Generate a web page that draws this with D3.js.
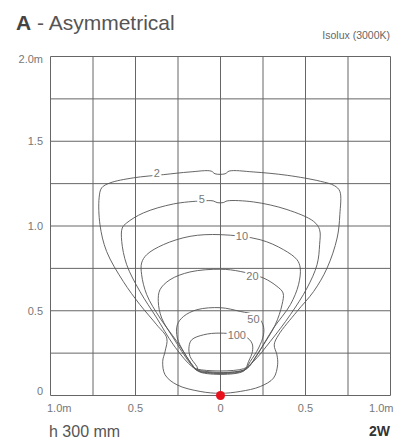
<!DOCTYPE html>
<html>
<head>
<meta charset="utf-8">
<script src="https://cdn.jsdelivr.net/npm/d3@7"></script>
<style>
  html, body { margin: 0; padding: 0; background: #fff; }
  svg { display: block; font-family: "Liberation Sans", Arial, sans-serif; }
</style>
</head>
<body>
<svg id="chart" width="398" height="444"></svg>
<script>
// ---------- data ----------
const xTickValues = [-1, -0.5, 0, 0.5, 1];
const xTickLabels = ["1.0m", "0.5", "0", "0.5", "1.0m"];
const yTickValues = [0, 0.5, 1, 1.5, 2];
const yTickLabels = ["0", "0.5", "1.0", "1.5", "2.0m"];
const gridX = [-1, -0.75, -0.5, -0.25, 0, 0.25, 0.5, 0.75, 1];
const gridY = [0, 0.25, 0.5, 0.75, 1, 1.25, 1.5, 1.75, 2];

const levels = ["2", "5", "10", "20", "50", "100"];

const contour2 = [
  [-0.055,1.324],[-0.032,1.308],[0.027,1.308],[0.051,1.324],[0.192,1.319],[0.393,1.299],
  [0.587,1.264],[0.670,1.238],[0.702,1.205],[0.702,1.067],[0.686,0.929],[0.627,0.752],
  [0.548,0.614],[0.450,0.496],[0.342,0.358],[0.316,0.299],[0.332,0.240],[0.336,0.181],
  [0.312,0.103],[0.234,0.053],[0.116,0.024],[0,0.013],[-0.120,0.024],[-0.256,0.063],
  [-0.326,0.122],[-0.340,0.201],[-0.326,0.260],[-0.316,0.339],[-0.375,0.417],[-0.474,0.536],
  [-0.572,0.673],[-0.670,0.850],[-0.709,1.008],[-0.714,1.166],[-0.699,1.225],[-0.650,1.254],
  [-0.513,1.284],[-0.336,1.303],[-0.179,1.319]
];
const contour5 = [
  [-0.043,1.148],[-0.020,1.138],[0.016,1.138],[0.039,1.148],[0.194,1.142],[0.391,1.097],
  [0.548,1.027],[0.583,0.978],[0.583,0.890],[0.568,0.772],[0.509,0.634],[0.411,0.477],
  [0.293,0.319],[0.194,0.201],[0.136,0.158],[-0.138,0.156],[-0.179,0.181],[-0.277,0.299],
  [-0.375,0.457],[-0.474,0.614],[-0.552,0.772],[-0.581,0.909],[-0.578,0.988],[-0.552,1.018],
  [-0.454,1.077],[-0.277,1.130],[-0.110,1.148]
];
const contour10 = [
  [0,0.949],[0.234,0.919],[0.371,0.860],[0.450,0.801],[0.469,0.752],[0.459,0.654],
  [0.411,0.536],[0.312,0.398],[0.214,0.240],[0.145,0.154],[-0.138,0.152],[-0.159,0.171],
  [-0.257,0.319],[-0.356,0.457],[-0.434,0.595],[-0.464,0.713],[-0.464,0.782],[-0.434,0.831],
  [-0.336,0.890],[-0.179,0.939]
];
const contour20 = [
  [0,0.745],[0.116,0.732],[0.253,0.693],[0.332,0.644],[0.368,0.605],[0.362,0.536],
  [0.322,0.417],[0.253,0.299],[0.175,0.181],[0.139,0.149],[-0.135,0.147],[-0.179,0.191],
  [-0.277,0.339],[-0.346,0.457],[-0.366,0.555],[-0.356,0.624],[-0.297,0.683],[-0.179,0.729]
];
const contour50 = [
  [0,0.518],[0.116,0.496],[0.210,0.471],[0.250,0.417],[0.253,0.358],[0.224,0.280],
  [0.175,0.201],[0.136,0.146],[-0.132,0.144],[-0.159,0.171],[-0.218,0.260],[-0.254,0.339],
  [-0.254,0.417],[-0.218,0.466],[-0.139,0.506]
];
const contour100 = [
  [0,0.368],[0.145,0.348],[0.185,0.309],[0.188,0.260],[0.165,0.201],[0.134,0.143],
  [-0.126,0.141],[-0.139,0.171],[-0.179,0.230],[-0.185,0.289],[-0.169,0.329],[-0.100,0.358]
];
const contours = [contour2, contour5, contour10, contour20, contour50, contour100];
// label anchor positions in metres
const labelX = [-0.375, -0.110, 0.126, 0.188, 0.194, 0.096];
const labelY = [1.309, 1.156, 0.939, 0.707, 0.453, 0.354];

const sourcePoint = [0, 0];

// ---------- drawing ----------
const svg = d3.select("#chart");
const x = d3.scaleLinear().domain([-1, 1]).range([50.5, 390.5]);
const y = d3.scaleLinear().domain([0, 2]).range([395.5, 56.5]);

// title
const title = svg.append("text").attr("x", 16).attr("y", 30)
  .style("font-size", "21px");
title.append("tspan").text("A").style("font-weight", "bold").attr("fill", "#444");
title.append("tspan").text(" - Asymmetrical").attr("fill", "#555");

svg.append("text").attr("x", 390).attr("y", 39).attr("text-anchor", "end")
  .style("font-size", "10.5px").attr("fill", "#666").text("Isolux (3000K)");

// grid
const grid = svg.append("g").attr("stroke", "#666").attr("stroke-width", 1);
grid.selectAll("line.v").data(gridX).join("line").attr("class", "v")
  .attr("x1", d => x(d)).attr("x2", d => x(d))
  .attr("y1", y(0)).attr("y2", y(2));
grid.selectAll("line.h").data(gridY).join("line").attr("class", "h")
  .attr("x1", x(-1)).attr("x2", x(1))
  .attr("y1", d => y(d)).attr("y2", d => y(d));

// axes labels
const yOff = [-4, 0, 0, 0, 3];
svg.append("g").selectAll("text").data(yTickValues).join("text")
  .attr("x", 43).attr("y", (d, i) => y(d) + yOff[i]).attr("dy", "0.35em")
  .attr("text-anchor", "end").style("font-size", "11px").attr("fill", "#777")
  .text((d, i) => yTickLabels[i]);

const xAnchor = ["start", "middle", "middle", "middle", "end"];
const xOff = [-3.5, 0, 0, 0, 3];
svg.append("g").selectAll("text").data(xTickValues).join("text")
  .attr("x", (d, i) => x(d) + xOff[i]).attr("y", 411.5)
  .attr("text-anchor", (d, i) => xAnchor[i]).style("font-size", "11px").attr("fill", "#777")
  .text((d, i) => xTickLabels[i]);

// contours
const line = d3.line().x(d => x(d[0])).y(d => y(d[1]))
  .curve(d3.curveCatmullRomClosed.alpha(0.5));
svg.append("g").selectAll("path").data(contours).join("path")
  .attr("d", line).attr("fill", "none").attr("stroke", "#555").attr("stroke-width", 0.9);

// contour labels
svg.append("g").selectAll("text").data(levels).join("text")
  .attr("x", (d, i) => x(labelX[i])).attr("y", (d, i) => y(labelY[i]))
  .attr("dy", "0.35em").attr("text-anchor", "middle")
  .style("font-size", "11px").attr("fill", "#777")
  .attr("stroke", "#fff").attr("stroke-width", 4).attr("paint-order", "stroke")
  .text(d => d);

// source point
svg.append("circle").attr("cx", x(sourcePoint[0])).attr("cy", y(sourcePoint[1]))
  .attr("r", 4.5).attr("fill", "#e8101a");

// footer
svg.append("text").attr("x", 49).attr("y", 437).style("font-size", "16px")
  .attr("fill", "#555").text("h 300 mm");
svg.append("text").attr("x", 390).attr("y", 436).attr("text-anchor", "end")
  .style("font-size", "14px").style("font-weight", "bold").attr("fill", "#333").text("2W");
</script>
</body>
</html>
